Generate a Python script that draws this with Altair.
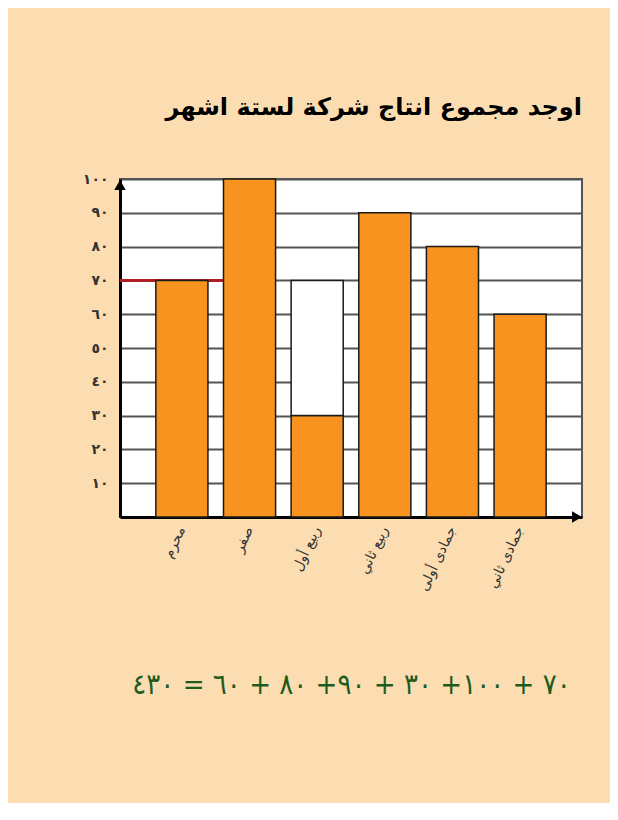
import json
import altair as alt
import pandas as pd

# ---- data ----
months = ["محرم", "صفر", "ربيع أول", "ربيع ثاني", "جمادى أولى", "جمادى ثاني"]
production = [70, 100, 30, 90, 80, 60]
erased_month = ["ربيع أول"]
erased_from = [30]
erased_to = [70]
reference_level = [70]
y_ticks = [10, 20, 30, 40, 50, 60, 70, 80, 90, 100]
y_tick_labels = ["١٠", "٢٠", "٣٠", "٤٠", "٥٠", "٦٠", "٧٠", "٨٠", "٩٠", "١٠٠"]
title_text = "اوجد مجموع انتاج شركة لستة اشهر"
equation_text = "٧٠ + ١٠٠+ ٣٠ + ٩٠+ ٨٠ + ٦٠ = ٤٣٠"

df = pd.DataFrame({"month": months, "value": production})
df_erased = pd.DataFrame({"month": erased_month, "lo": erased_from, "hi": erased_to})
df_ref = pd.DataFrame({"level": reference_level})
df_one = pd.DataFrame({"k": [0]})

label_map = json.dumps({str(v): l for v, l in zip(y_ticks, y_tick_labels)}, ensure_ascii=False)

FONT = "DejaVu Sans"
FONT_C = "DejaVu Sans Condensed"

x_enc = alt.X(
    "month:N",
    sort=months,
    scale=alt.Scale(paddingInner=0.23, paddingOuter=0.53),
    axis=alt.Axis(
        title=equation_text,
        titleFont=FONT_C,
        titleFontSize=29,
        titleFontWeight="normal",
        titleColor="#1E5B1E",
        titlePadding=78,
        labelAngle=295,
        labelFont=FONT,
        labelFontSize=14,
        labelColor="#333333",
        labelPadding=10,
        ticks=False,
        domainColor="black",
        domainWidth=3,
        grid=False,
    ),
)

y_scale = alt.Scale(domain=[0, 100], nice=False)
y_axis = alt.Axis(
    title=None,
    values=y_ticks,
    labelExpr=f"{label_map}[''+datum.value]",
    labelFont=FONT,
    labelFontSize=14,
    labelFontWeight="bold",
    labelColor="#333333",
    labelPadding=12,
    ticks=False,
    domainColor="black",
    domainWidth=3,
    grid=True,
    gridColor="#555555",
    gridWidth=2,
    gridOpacity=1,
)

red_rule = alt.Chart(df_ref).mark_rule(color="#B01E23", strokeWidth=3).encode(
    y=alt.Y("level:Q", scale=y_scale, axis=y_axis),
    x=alt.value(0),
    x2=alt.value(150),
)

bars = alt.Chart(df).mark_bar(
    color="#F7931E", stroke="#1a1a1a", strokeWidth=1.5
).encode(
    x=x_enc,
    y=alt.Y("value:Q", scale=y_scale, axis=y_axis),
)

erased = alt.Chart(df_erased).mark_bar(
    color="white", stroke="#1a1a1a", strokeWidth=1.5
).encode(
    x=x_enc,
    y=alt.Y("lo:Q", scale=y_scale, axis=y_axis),
    y2="hi:Q",
)

arrow_up = alt.Chart(df_one).mark_point(
    shape="triangle-up", filled=True, color="black", size=130, opacity=1
).encode(x=alt.value(0), y=alt.value(6))

arrow_right = alt.Chart(df_one).mark_point(
    shape="triangle-right", filled=True, color="black", size=130, opacity=1
).encode(x=alt.value(457), y=alt.value(338))

chart = (
    alt.layer(red_rule, bars, erased, arrow_up, arrow_right)
    .properties(
        width=462,
        height=338,
        autosize=alt.AutoSizeParams(type="none"),
        padding={"left": 112, "top": 171, "right": 28, "bottom": 286},
        background="#FCDDB1",
        title=alt.Title(
            title_text,
            anchor="end",
            font=FONT,
            fontSize=24,
            fontWeight="bold",
            color="black",
            offset=52,
        ),
    )
    .configure_view(fill="white", stroke="#555555", strokeWidth=2)
)

chart.save("out.html", embed_options={"renderer": "svg", "actions": False})
